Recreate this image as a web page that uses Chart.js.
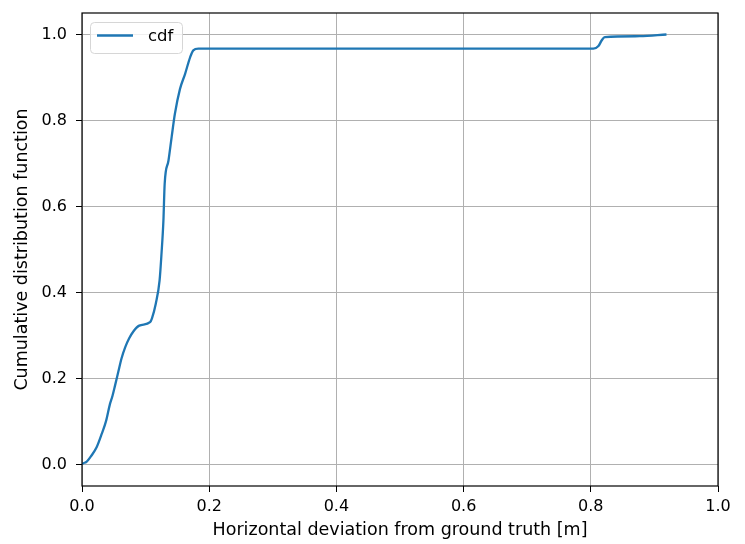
<!DOCTYPE html>
<html>
<head>
<meta charset="utf-8">
<script src="https://cdn.jsdelivr.net/npm/chart.js@4"></script>
<style>
html,body{margin:0;padding:0;background:#fff;}
#wrap{width:745px;height:544px;}
</style>
</head>
<body>
<div id="wrap"><canvas id="c" width="745" height="544"></canvas></div>
<script>
const seriesLabel = "cdf";
const xValues = [0.0, 0.001, 0.007, 0.015, 0.023, 0.031, 0.038, 0.044, 0.048, 0.052, 0.057, 0.062, 0.068, 0.074, 0.081, 0.09, 0.107, 0.11, 0.116, 0.122, 0.125, 0.128, 0.13, 0.136, 0.141, 0.146, 0.154, 0.162, 0.17, 0.175, 0.183, 0.5, 0.804, 0.812, 0.817, 0.822, 0.877, 0.919];
const yValues = [0.0, 0.002, 0.006, 0.021, 0.04, 0.071, 0.102, 0.141, 0.16, 0.184, 0.215, 0.246, 0.273, 0.293, 0.31, 0.323, 0.331, 0.34, 0.374, 0.428, 0.49, 0.567, 0.653, 0.707, 0.762, 0.815, 0.873, 0.908, 0.947, 0.963, 0.967, 0.967, 0.967, 0.973, 0.986, 0.994, 0.996, 1.0];
const xTicks = [0.0, 0.2, 0.4, 0.6, 0.8, 1.0];
const yTicks = [0.0, 0.2, 0.4, 0.6, 0.8, 1.0];
const xTitle = "Horizontal deviation from ground truth [m]";
const yTitle = "Cumulative distribution function";

const FONT = "'DejaVu Sans', sans-serif";
const points = xValues.map((x, i) => ({x: x, y: yValues[i]}));

const framePlugin = {
  id: 'frame',
  afterDatasetsDraw(chart) {
    const {ctx, chartArea: a} = chart;
    ctx.save();
    ctx.strokeStyle = '#000';
    ctx.lineWidth = 1.2;
    ctx.strokeRect(a.left, a.top, a.right - a.left, a.bottom - a.top);
    // legend
    const bx = 90.5, by = 22.5, bw = 92, bh = 31, r = 4;
    ctx.beginPath();
    ctx.moveTo(bx + r, by);
    ctx.lineTo(bx + bw - r, by);
    ctx.quadraticCurveTo(bx + bw, by, bx + bw, by + r);
    ctx.lineTo(bx + bw, by + bh - r);
    ctx.quadraticCurveTo(bx + bw, by + bh, bx + bw - r, by + bh);
    ctx.lineTo(bx + r, by + bh);
    ctx.quadraticCurveTo(bx, by + bh, bx, by + bh - r);
    ctx.lineTo(bx, by + r);
    ctx.quadraticCurveTo(bx, by, bx + r, by);
    ctx.closePath();
    ctx.fillStyle = 'rgba(255,255,255,0.8)';
    ctx.fill();
    ctx.strokeStyle = '#d6d6d6';
    ctx.lineWidth = 1;
    ctx.stroke();
    const ds = chart.data.datasets[0];
    ctx.beginPath();
    ctx.moveTo(97, 35.5);
    ctx.lineTo(133, 35.5);
    ctx.strokeStyle = ds.borderColor;
    ctx.lineWidth = ds.borderWidth;
    ctx.stroke();
    ctx.fillStyle = '#000';
    ctx.font = '16.5px ' + FONT;
    ctx.textBaseline = 'middle';
    ctx.textAlign = 'left';
    ctx.fillText(ds.label, 148, 37);
    ctx.restore();
  }
};

new Chart(document.getElementById('c'), {
  type: 'line',
  data: {
    datasets: [{
      label: seriesLabel,
      data: points,
      borderColor: '#1f77b4',
      borderWidth: 2.3,
      pointRadius: 0,
      cubicInterpolationMode: 'monotone',
      fill: false
    }]
  },
  options: {
    responsive: false,
    animation: false,
    devicePixelRatio: 1,
    layout: {padding: {top: 13, right: 27, left: 0, bottom: 0}},
    plugins: {legend: {display: false}, tooltip: {enabled: false}},
    scales: {
      x: {
        type: 'linear',
        min: 0, max: 1.0,
        afterFit(s) { s.height = 58; },
        afterBuildTicks(s) { s.ticks = xTicks.map(v => ({value: v})); },
        ticks: {
          color: '#000', font: {family: FONT, size: 16}, padding: 5,
          maxRotation: 0, autoSkip: false,
          callback: v => Number(v).toFixed(1)
        },
        grid: {color: '#b0b0b0', lineWidth: 1, tickColor: '#000', tickLength: 6, drawTicks: true},
        border: {display: false},
        title: {display: true, text: xTitle, color: '#000', font: {family: FONT, size: 17.5}, padding: {top: 0, bottom: 3}}
      },
      y: {
        type: 'linear',
        min: -0.05, max: 1.05,
        afterFit(s) { s.width = 82; s.paddingTop = 0; s.paddingBottom = 0; },
        afterBuildTicks(s) { s.ticks = yTicks.map(v => ({value: v})); },
        ticks: {
          color: '#000', font: {family: FONT, size: 16}, padding: 9, autoSkip: false,
          callback: v => Number(v).toFixed(1)
        },
        grid: {color: '#b0b0b0', lineWidth: 1, tickColor: '#000', tickLength: 6, drawTicks: true},
        border: {display: false},
        title: {display: true, text: yTitle, color: '#000', font: {family: FONT, size: 17.5}, padding: {top: 12, bottom: 0}}
      }
    }
  },
  plugins: [framePlugin]
});
</script>
</body>
</html>
